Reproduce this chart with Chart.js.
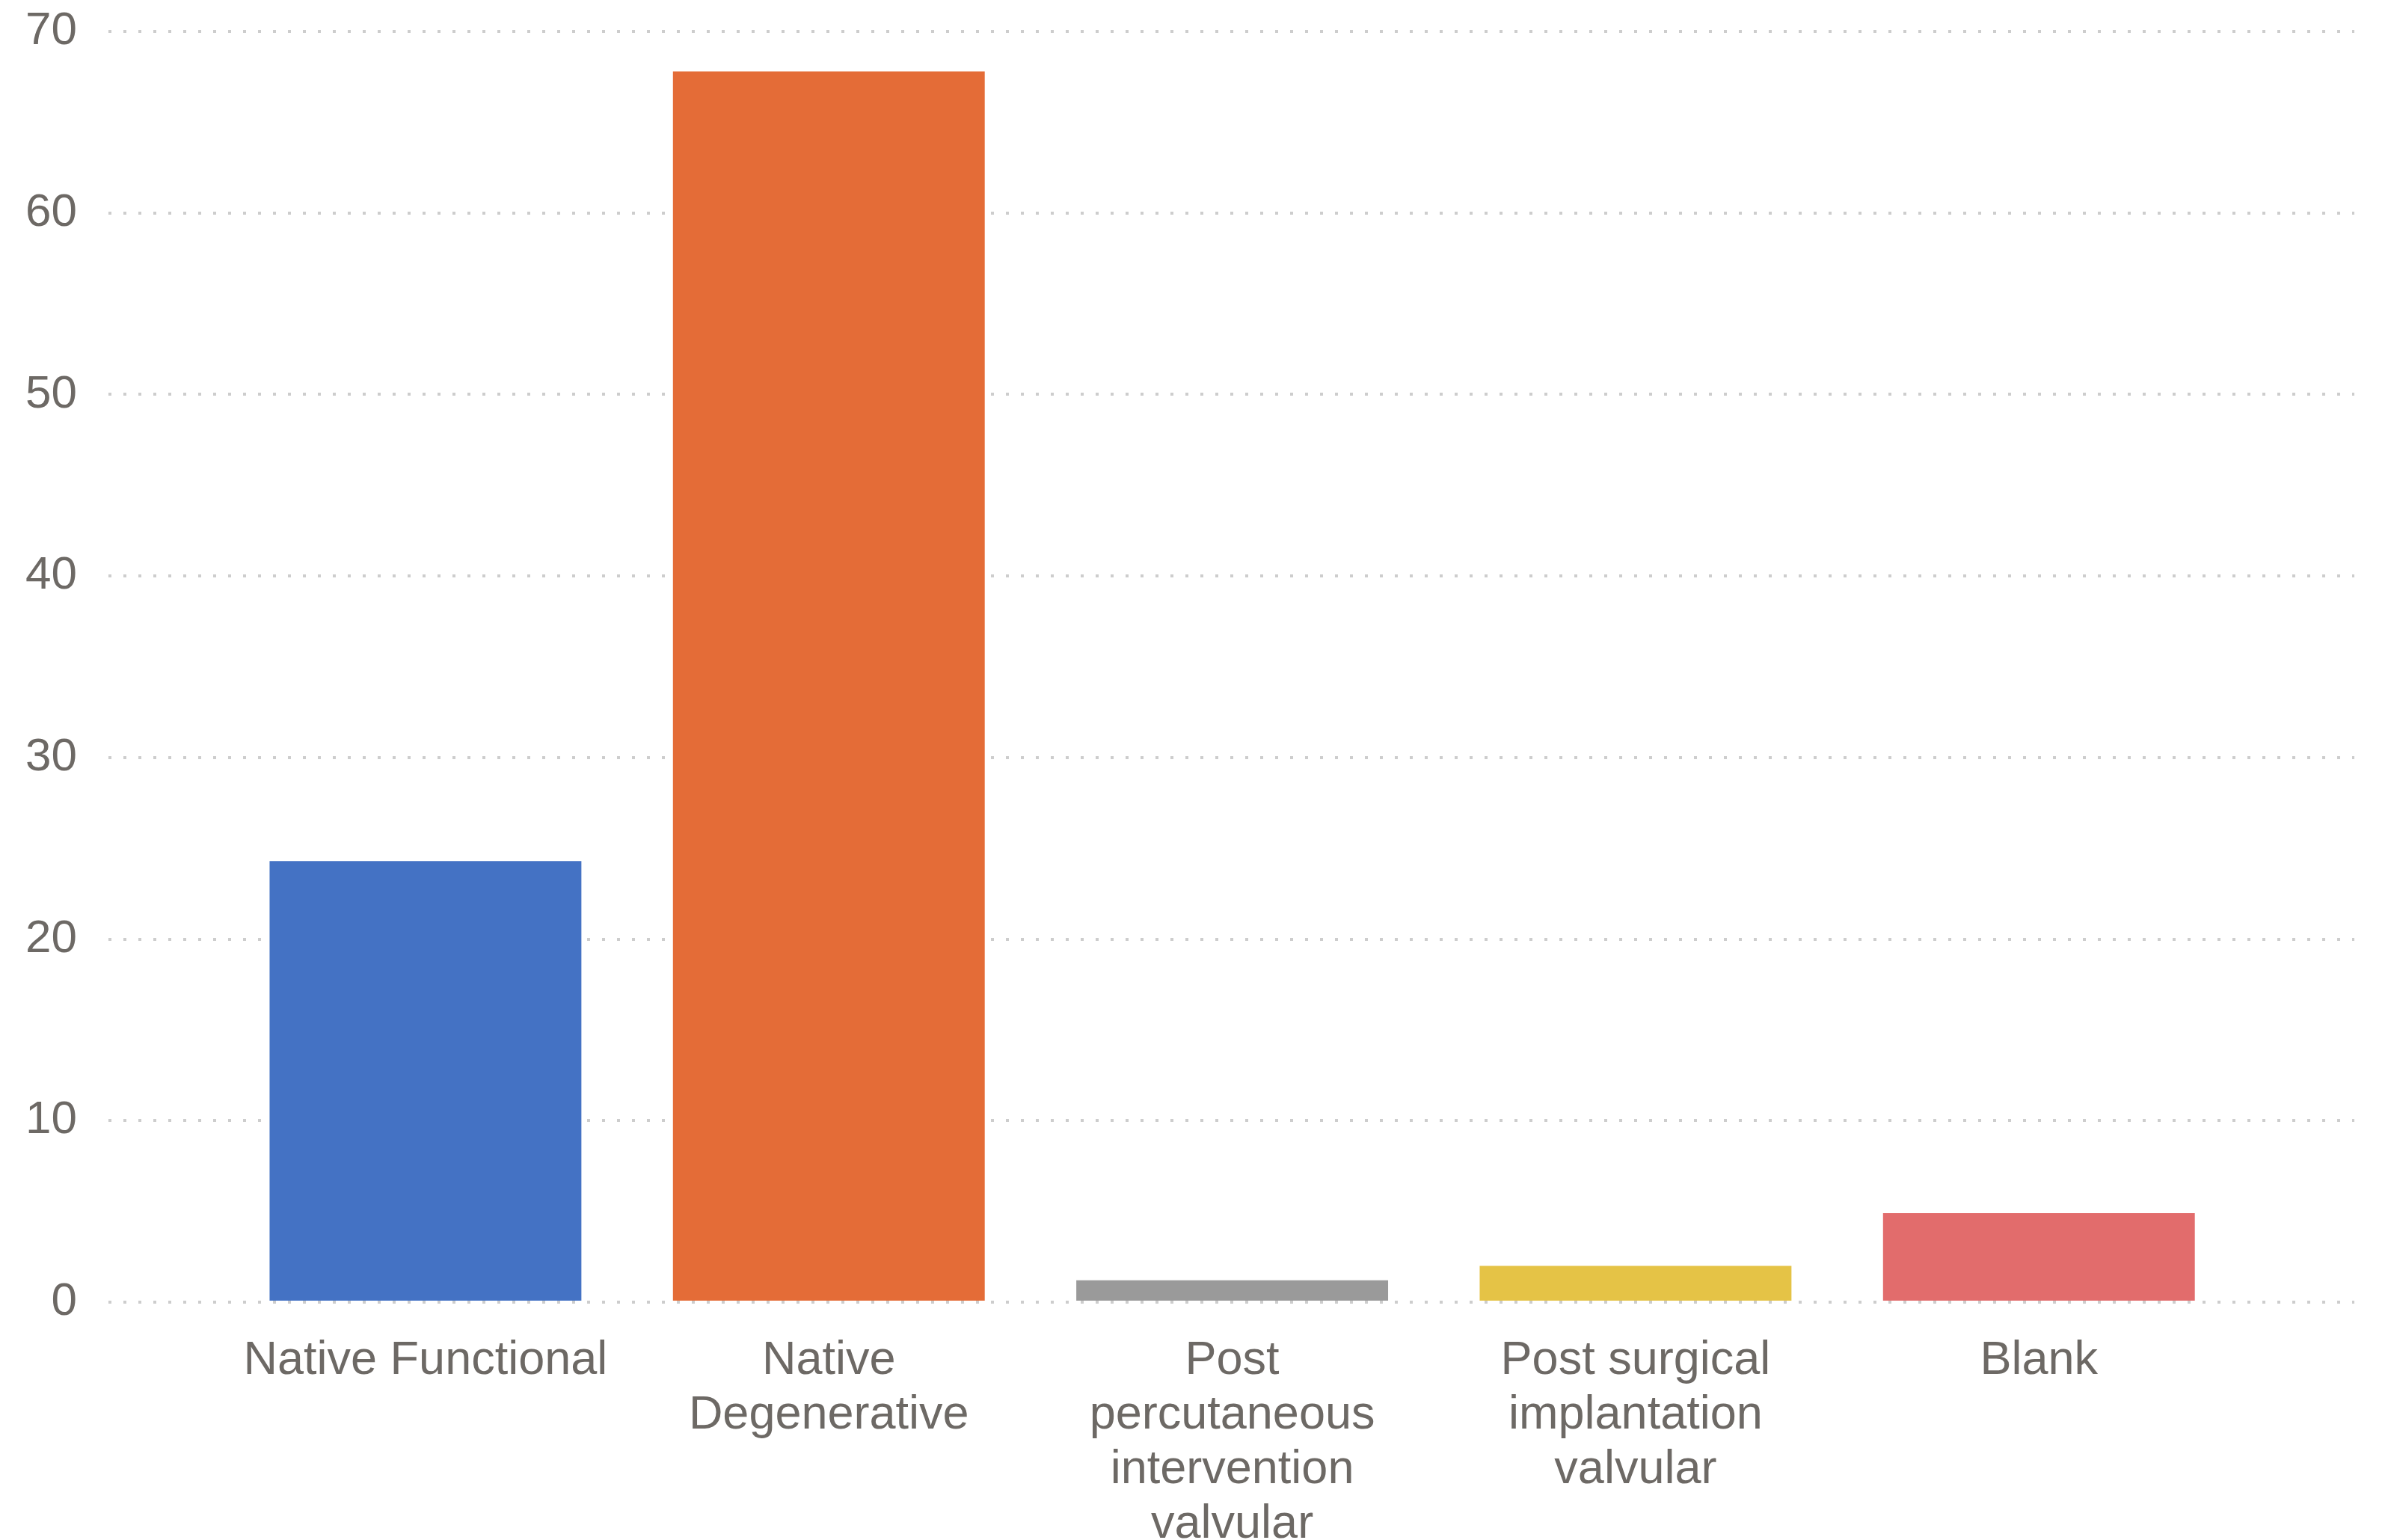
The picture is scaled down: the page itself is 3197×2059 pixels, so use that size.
<!DOCTYPE html>
<html>
<head>
<meta charset="utf-8">
<script src="https://cdn.jsdelivr.net/npm/chart.js@4/dist/chart.umd.min.js"></script>
<style>
  html, body { margin: 0; padding: 0; background: #ffffff; }
  #wrap { width: 3197px; height: 2059px; position: relative; }
</style>
</head>
<body>
<div id="wrap"><canvas id="c" width="3197" height="2059"></canvas></div>
<script>
const categories = [
  ["Native Functional"],
  ["Native", "Degenerative"],
  ["Post", "percutaneous", "intervention", "valvular"],
  ["Post surgical", "implantation", "valvular"],
  ["Blank"]
];
const values = [24.3, 67.8, 1.2, 2.0, 4.9];
const barColors = ["#4472C4", "#E46C37", "#9A9A9A", "#E5C346", "#E26C6C"];
const yTicks = [0, 10, 20, 30, 40, 50, 60, 70];

const points = values.map((v, i) => ({ x: i, y: v }));
const textColor = "#6d6965";
const fontFamily = "'Liberation Sans', Arial, sans-serif";

new Chart(document.getElementById("c"), {
  type: "bar",
  data: {
    datasets: [{
      data: points,
      backgroundColor: barColors,
      borderWidth: 0,
      categoryPercentage: 1,
      barPercentage: 0.773
    }]
  },
  options: {
    responsive: false,
    animation: false,
    devicePixelRatio: 1,
    layout: { padding: { top: 42, right: 49, bottom: 0, left: 0 } },
    plugins: { legend: { display: false }, tooltip: { enabled: false } },
    scales: {
      x: {
        type: "linear",
        offset: false,
        min: -0.786,
        max: 4.782,
        grid: { display: false, drawTicks: false, offset: false },
        border: { display: false },
        afterBuildTicks: (axis) => { axis.ticks = categories.map((_, i) => ({ value: i })); },
        afterFit: (scale) => { scale.height = 318; scale.paddingLeft = 0; scale.paddingRight = 0; },
        ticks: {
          padding: 42,
          autoSkip: false,
          maxRotation: 0,
          minRotation: 0,
          color: textColor,
          font: { family: fontFamily, size: 63, lineHeight: 1.16 },
          callback: (v) => categories[v] !== undefined ? categories[v] : ""
        }
      },
      y: {
        min: 0,
        max: 70,
        afterBuildTicks: (axis) => { axis.ticks = yTicks.map(v => ({ value: v })); },
        afterFit: (scale) => { scale.width = 145; scale.paddingTop = 0; scale.paddingBottom = 0; },
        grid: { color: "#cdcdcd", lineWidth: 4, drawTicks: false },
        border: { display: false, dash: [4, 16] },
        ticks: {
          padding: 42,
          color: textColor,
          font: { family: fontFamily, size: 62 }
        }
      }
    }
  }
});
</script>
</body>
</html>
